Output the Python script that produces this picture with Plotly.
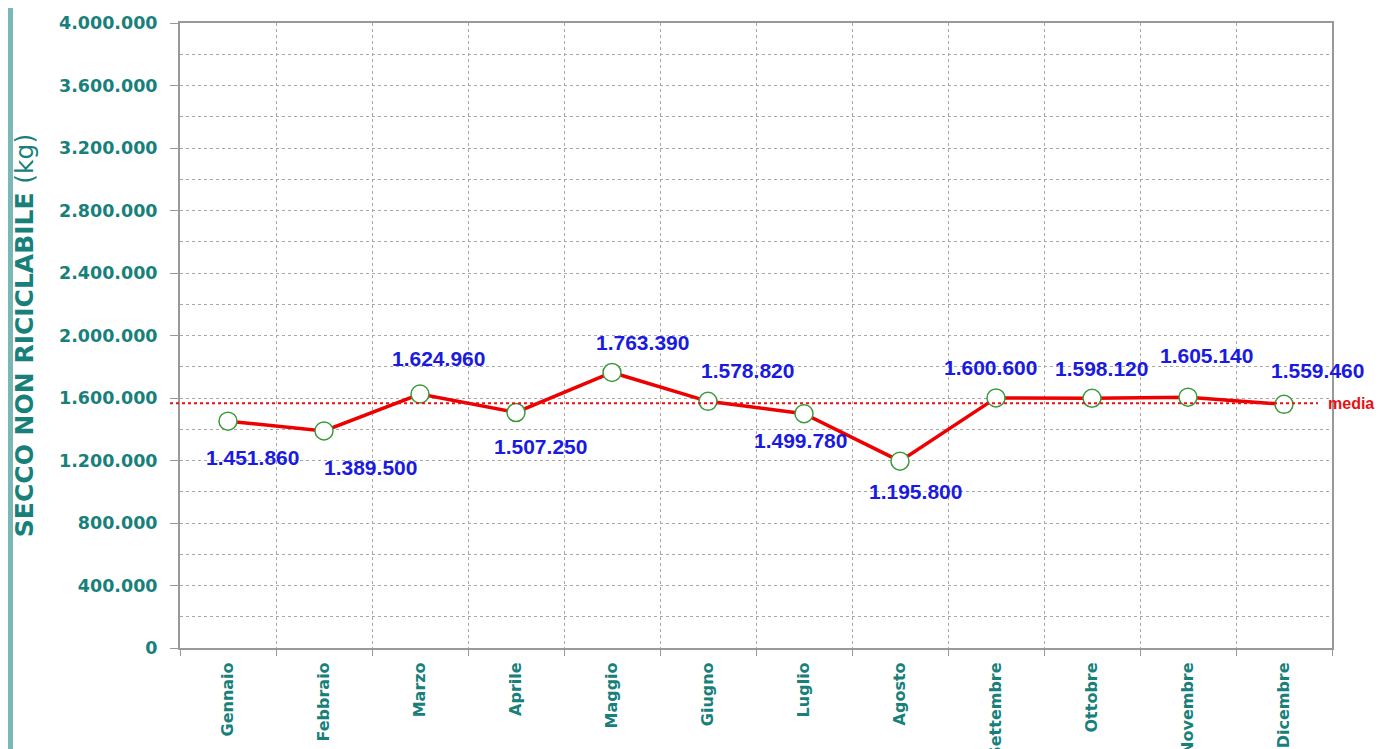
import plotly.graph_objects as go

# data
mesi = ['Gennaio', 'Febbraio', 'Marzo', 'Aprile', 'Maggio', 'Giugno',
        'Luglio', 'Agosto', 'Settembre', 'Ottobre', 'Novembre', 'Dicembre']
secco_kg = [1451860, 1389500, 1624960, 1507250, 1763390, 1578820,
            1499780, 1195800, 1600600, 1598120, 1605140, 1559460]
media_kg = 1567000

# label offsets (px) so the numbers sit where they are in the original
label_dx = [24, 46, 18, 24, 30, 39, -4, 15, -6, 9, 18, 33]
label_dy = [-36, -37, 36, -34, 30, 31, -27, -30, 30, 30, 42, 34]

# the page body adds an 8px margin, so the figure is 8px smaller
W, H = 1378, 741
ML, MR, MT, MB = 172, 54, 15, 101
plot_w = W - ML - MR
plot_h = H - MT - MB

teal = '#17807a'
grid_col = '#a8a8a8'
FONT = 'DejaVu Sans'

fig = go.Figure()

fig.add_trace(go.Scatter(
    x=mesi, y=secco_kg, mode='lines+markers',
    line=dict(color='#ee0000', width=3.5),
    marker=dict(size=18, color='white', line=dict(color='#3c9a3c', width=1.5)),
    showlegend=False, hoverinfo='skip'))

def fmt(v):
    return f'{v:,}'.replace(',', '.')

for m, v, dx, dy in zip(mesi, secco_kg, label_dx, label_dy):
    fig.add_annotation(x=m, y=v, text=fmt(v), showarrow=False,
                       xshift=dx, yshift=dy,
                       font=dict(family='Arial', size=21, color='#1a1ae0', weight='bold'))

# media line
fig.add_shape(type='line', xref='paper', yref='y',
              x0=-10 / plot_w, x1=1138 / plot_w, y0=media_kg, y1=media_kg,
              line=dict(color='#e81010', width=2, dash='dot'), layer='above')
fig.add_annotation(xref='paper', yref='y', x=1.0, y=media_kg, xanchor='left',
                   xshift=-6, text='media', showarrow=False,
                   font=dict(family='Arial', size=16, color='#e81010', weight='bold'))

# teal bar at the left edge
fig.add_shape(type='rect', xref='paper', yref='paper',
              x0=-ML / plot_w, x1=(5 - ML) / plot_w, y0=-MB / plot_h, y1=1 + MT / plot_h,
              fillcolor='#7ab8b8', line=dict(width=0), layer='above')

fig.update_xaxes(
    type='category', tickson='boundaries', range=[-0.5, 11.5], automargin=False,
    showgrid=True, gridcolor=grid_col, griddash='3px,3px', gridwidth=1,
    showline=True, linecolor='#999999', linewidth=2, mirror=True,
    ticks='outside', ticklen=6, tickcolor='#999999', ticklabelstandoff=6,
    tickangle=-90,
    tickfont=dict(family=FONT, size=16, color=teal, weight='bold'))

fig.update_yaxes(
    range=[0, 4000000], dtick=400000, tickformat=',d', automargin=False,
    showgrid=True, gridcolor=grid_col, griddash='3px,3px', gridwidth=1,
    minor=dict(dtick=200000, showgrid=True, gridcolor=grid_col, griddash='3px,3px', gridwidth=1),
    showline=True, linecolor='#999999', linewidth=2, mirror=True,
    ticks='outside', ticklen=8, tickcolor='#999999', zeroline=False, ticklabelstandoff=9,
    tickfont=dict(family=FONT, size=17.5, color=teal, weight='bold'),
    title=dict(text='SECCO NON RICICLABILE <span style="font-weight:normal">(kg)</span>', standoff=18,
               font=dict(family=FONT, size=25, color=teal, weight='bold')))

fig.update_layout(
    width=W, height=H,
    margin=dict(l=ML, r=MR, t=MT, b=MB),
    paper_bgcolor='white', plot_bgcolor='white',
    separators=',.')

fig.write_html('out.html')
